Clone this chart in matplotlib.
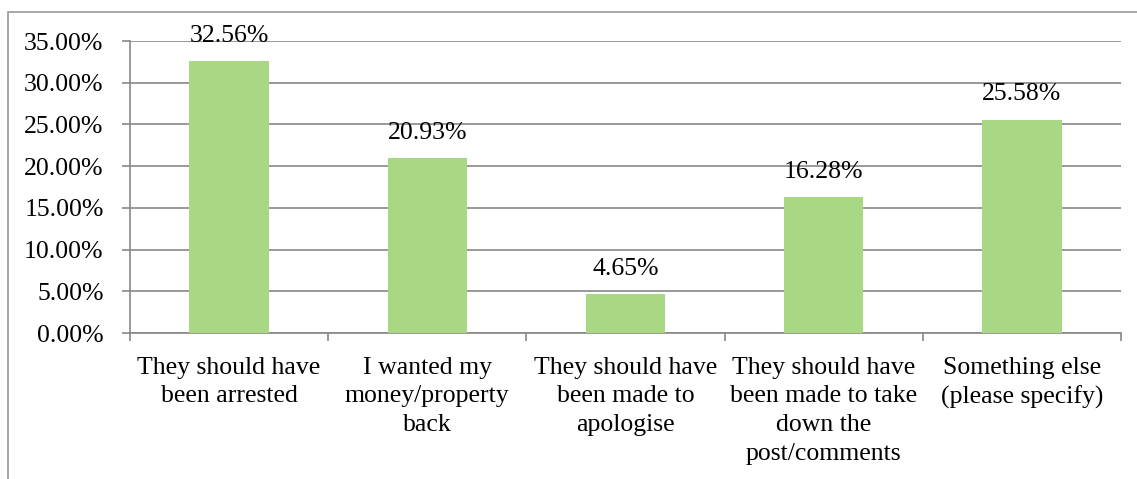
import matplotlib.pyplot as plt
from matplotlib.patches import Rectangle

# survey responses
categories = [
    'They should have\nbeen arrested',
    'I wanted my\nmoney/property\nback',
    'They should have\nbeen made to\napologise',
    'They should have\nbeen made to take\ndown the\npost/comments',
    'Something else\n(please specify)',
]
values = [32.56, 20.93, 4.65, 16.28, 25.58]
y_ticks = [0, 5, 10, 15, 20, 25, 30, 35]

plt.rcParams['font.family'] = ['Liberation Serif', 'DejaVu Serif']
plt.rcParams['font.size'] = 18.5

fig = plt.figure(figsize=(11.37, 4.79), dpi=100)
ax = fig.add_axes([130 / 1137, 1 - 333 / 479, (1121 - 130) / 1137, (333 - 41) / 479])

# chart frame (cut off at right/bottom like the original)
fig.patches.append(Rectangle((8 / 1137, -0.1), 1.2, 1 - 12 / 479 + 0.1,
                             transform=fig.transFigure, fill=False,
                             edgecolor='#999999', linewidth=1.2))

x = list(range(len(categories)))
ax.bar(x, values, width=0.4, color='#a9d884', zorder=3)

for xi, v in zip(x, values):
    ax.annotate(f'{v:.2f}%', (xi, v), xytext=(0, 14), textcoords='offset points',
                ha='center', va='baseline', zorder=4)

ax.set_xlim(-0.5, len(categories) - 0.5)
ax.set_ylim(0, 35)
ax.set_yticks(y_ticks)
ax.set_yticklabels([f'{t:.2f}%' for t in y_ticks])
ax.yaxis.grid(True, color='#888888', linewidth=1.2, zorder=0)
ax.tick_params(axis='y', length=6, color='#888888', width=1.2, pad=13)

ax.set_xticks([i - 0.5 for i in range(len(categories) + 1)])
ax.set_xticklabels([])
ax.set_xticks(x, minor=True)
ax.set_xticklabels(categories, minor=True, linespacing=1.4)
ax.tick_params(axis='x', which='major', length=6, color='#888888', width=1.2)
ax.tick_params(axis='x', which='minor', length=0, pad=17)

for s in ['top', 'right']:
    ax.spines[s].set_visible(False)
for s in ['left', 'bottom']:
    ax.spines[s].set_color('#888888')
    ax.spines[s].set_linewidth(1.2)

fig.savefig('out.png', dpi=100)
